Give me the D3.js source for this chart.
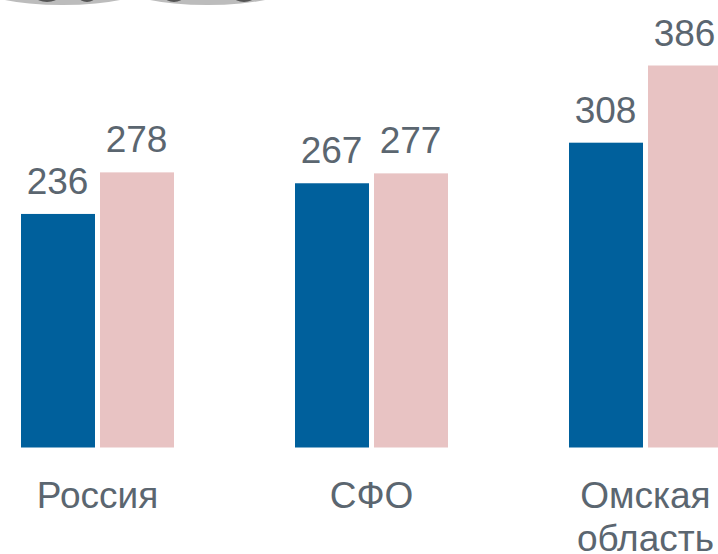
<!DOCTYPE html>
<html>
  <meta charset="utf-8" />
  <script src="https://d3js.org/d3.v7.min.js"></script>
  <style>
    html, body { margin: 0; padding: 0; background: #fff; overflow: hidden; }
    text { font-family: "Liberation Sans", Arial, sans-serif; fill: #5b6670; }
  </style>
  <body>
    <svg width="718" height="554" id="chart"></svg>
    <script>
      const regions = ["Россия", "СФО", "Омская область"];
      const series = ["a", "b"];
      const valuesA = [236, 267, 308];
      const valuesB = [278, 277, 386];
      const colors = ["#00609c", "#e8c3c3"];

      const svg = d3.select("#chart");

      // groups are 274px apart, first bar starts at x=21
      const x0 = d3.scaleBand().domain(regions).range([-39.5, 782.5])
        .paddingInner(0.4416).paddingOuter(0.2208);
      const x1 = d3.scaleBand().domain(series).range([0, x0.bandwidth()])
        .paddingInner(0.0633);
      const y = d3.scaleLinear().domain([0, 386]).range([447.5, 65.5]);

      // bits of the round pictures cut off by the top edge
      const blobs = [[62.5, -15, 87, 20, "#bcbcbc"], [207.5, -15, 87, 20, "#bcbcbc"],
        [47, -3, 11, 5, "#555555"], [87, -3, 8, 5, "#555555"],
        [174, -3, 9, 5, "#555555"], [244, -3, 10, 5, "#555555"]];
      svg.selectAll(".blob").data(blobs).enter().append("ellipse")
        .attr("class", "blob")
        .attr("cx", (d) => d[0]).attr("cy", (d) => d[1])
        .attr("rx", (d) => d[2]).attr("ry", (d) => d[3])
        .attr("fill", (d) => d[4]);

      series.forEach((s, si) => {
        const vals = si === 0 ? valuesA : valuesB;
        const g = svg.append("g");
        g.selectAll("rect").data(regions).enter().append("rect")
          .attr("x", (d) => x0(d) + x1(s))
          .attr("y", (d, i) => y(vals[i]))
          .attr("width", x1.bandwidth())
          .attr("height", (d, i) => y(0) - y(vals[i]))
          .attr("fill", colors[si]);
        g.selectAll("text").data(regions).enter().append("text")
          .attr("x", (d) => x0(d) + x1(s) + x1.bandwidth() / 2 - 0.5)
          .attr("y", (d, i) => y(vals[i]) - 20)
          .attr("text-anchor", "middle")
          .attr("font-size", 37)
          .text((d, i) => vals[i]);
      });

      // category labels, wrapped on the space
      regions.forEach((r) => {
        const words = r.split(" ");
        words.forEach((w, i) => {
          svg.append("text")
            .attr("x", x0(r) + x0.bandwidth() / 2)
            .attr("y", 507.5 + i * 43)
            .attr("text-anchor", "middle")
            .attr("font-size", 37)
            .text(w);
        });
      });
    </script>
  </body>
</html>
